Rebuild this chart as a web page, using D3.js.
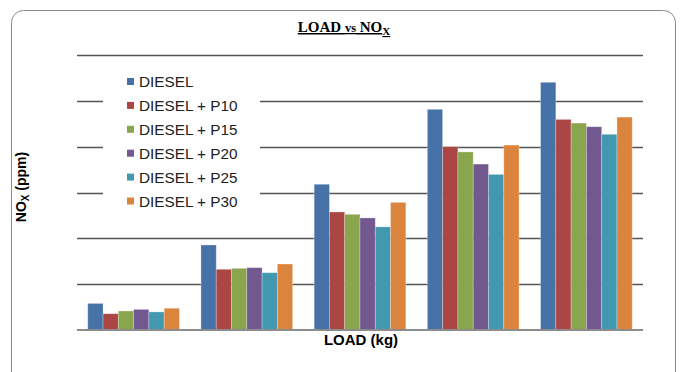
<!DOCTYPE html>
<html>
<head>
<meta charset="utf-8">
<script src="https://cdn.jsdelivr.net/npm/d3@7"></script>
<style>
  html, body { margin: 0; padding: 0; background: #fff; }
  svg { display: block; }
</style>
</head>
<body>
<svg id="chart" width="682" height="372"></svg>
<script>
// Engine load steps (kg) – one bar group per step
const categories = ["0", "25", "50", "75", "100"];

// Fuel blends
const seriesNames = ["DIESEL", "DIESEL + P10", "DIESEL + P15", "DIESEL + P20", "DIESEL + P25", "DIESEL + P30"];

// NOx emissions (ppm) per blend, one value per load step
const diesel = [116, 371, 636, 963, 1081];
const p10    = [71, 265, 515, 800, 919];
const p15    = [83, 269, 505, 777, 903];
const p20    = [90, 272, 489, 724, 887];
const p25    = [79, 250, 450, 679, 854];
const p30    = [95, 288, 557, 807, 929];

// Gridline values (no tick labels are printed)
const gridTicks = [200, 400, 600, 800, 1000, 1200];

const seriesColors = ["#4672a8", "#aa4643", "#89a54e", "#71588f", "#4198af", "#db843d"];

const seriesValues = [diesel, p10, p15, p20, p25, p30];
const rows = categories.map((c, i) => ({
  load: c,
  values: seriesNames.map((s, j) => ({ series: s, value: seriesValues[j][i] }))
}));

const svg = d3.select("#chart");

// Rounded outer frame
svg.append("rect")
  .attr("x", 11.5).attr("y", 10.5)
  .attr("width", 664).attr("height", 400)
  .attr("rx", 12).attr("ry", 12)
  .attr("fill", "#fff")
  .attr("stroke", "#8c8c8c")
  .attr("stroke-width", 1);

const plot = { left: 77, right: 643, top: 55, bottom: 330 };

const x0 = d3.scaleBand()
  .domain(categories)
  .range([plot.left, plot.right])
  .paddingInner(0.19)
  .paddingOuter(0.095);

const x1 = d3.scaleBand()
  .domain(seriesNames)
  .range([0, x0.bandwidth()])
  .padding(0);

const y = d3.scaleLinear()
  .domain([0, 1200])
  .range([plot.bottom, plot.top]);

const color = d3.scaleOrdinal().domain(seriesNames).range(seriesColors);

// Horizontal gridlines
svg.append("g")
  .selectAll("line")
  .data(gridTicks)
  .join("line")
  .attr("x1", plot.left).attr("x2", plot.right)
  .attr("y1", d => Math.round(y(d)) + 0.5)
  .attr("y2", d => Math.round(y(d)) + 0.5)
  .attr("stroke", "#555")
  .attr("stroke-width", 1.3);

// Bars
svg.append("g")
  .selectAll("g")
  .data(rows)
  .join("g")
  .attr("transform", d => `translate(${x0(d.load)},0)`)
  .selectAll("rect")
  .data(d => d.values)
  .join("rect")
  .attr("x", d => x1(d.series))
  .attr("y", d => y(d.value))
  .attr("width", x1.bandwidth())
  .attr("height", d => y(0) - y(d.value))
  .attr("fill", d => color(d.series))
  .attr("stroke", "rgba(255,255,255,0.35)")
  .attr("stroke-width", 0.8);

// Category axis baseline
svg.append("line")
  .attr("x1", plot.left).attr("x2", plot.right)
  .attr("y1", y(0)).attr("y2", y(0))
  .attr("stroke", "#8c8c8c")
  .attr("stroke-width", 2);

// Legend with white backing box
const legend = svg.append("g");
legend.append("rect")
  .attr("x", 103).attr("y", 63)
  .attr("width", 157).attr("height", 152)
  .attr("fill", "#fff");

const legendItems = legend.selectAll("g.item")
  .data(seriesNames)
  .join("g")
  .attr("class", "item")
  .attr("transform", (d, i) => `translate(127,${81.5 + i * 23.9})`);

legendItems.append("rect")
  .attr("x", 0).attr("y", -3.5)
  .attr("width", 7).attr("height", 7)
  .attr("fill", d => color(d));

legendItems.append("text")
  .attr("x", 12).attr("y", 0)
  .attr("dy", "0.36em")
  .attr("font-family", "Liberation Sans, Arial, sans-serif")
  .attr("font-size", 15.3)
  .attr("fill", "#222")
  .text(d => d);

// Chart title
const title = svg.append("text")
  .attr("x", 344).attr("y", 32)
  .attr("text-anchor", "middle")
  .attr("font-family", "Liberation Serif, Times New Roman, serif")
  .attr("font-weight", "bold")
  .attr("font-size", 15)
  .attr("text-decoration", "underline")
  .attr("fill", "#000");
title.append("tspan").text("LOAD ");
title.append("tspan").attr("font-size", 12.5).text("vs");
title.append("tspan").text(" NO");
title.append("tspan").attr("font-size", 11).attr("dy", 3).text("X");

// Axis titles
svg.append("text")
  .attr("x", 361).attr("y", 345)
  .attr("text-anchor", "middle")
  .attr("font-family", "Liberation Sans, Arial, sans-serif")
  .attr("font-weight", "bold")
  .attr("font-size", 15)
  .attr("fill", "#000")
  .text("LOAD (kg)");

const yTitle = svg.append("text")
  .attr("transform", "translate(26,187) rotate(-90)")
  .attr("text-anchor", "middle")
  .attr("font-family", "Liberation Sans, Arial, sans-serif")
  .attr("font-weight", "bold")
  .attr("font-size", 14)
  .attr("fill", "#000");
yTitle.append("tspan").text("NO");
yTitle.append("tspan").attr("font-size", 10).attr("dy", 3).text("X");
yTitle.append("tspan").attr("dy", -3).text(" (ppm)");
</script>
</body>
</html>
